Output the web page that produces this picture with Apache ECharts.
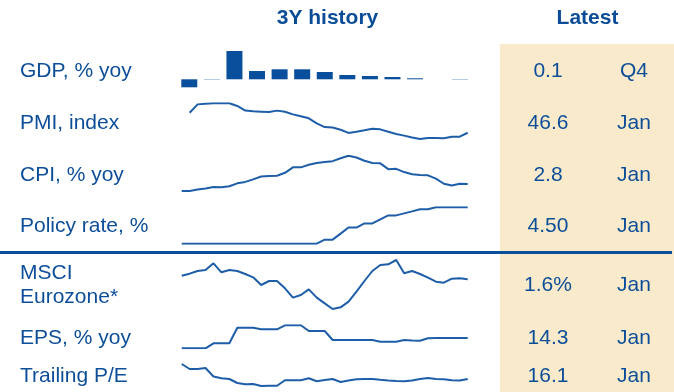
<!DOCTYPE html>
<html>
<head>
<meta charset="utf-8">
<script src="https://cdn.jsdelivr.net/npm/echarts@6/dist/echarts.min.js"></script>
<style>
html,body{margin:0;padding:0;background:#fff;}
#chart{width:674px;height:392px;}
</style>
</head>
<body>
<div id="chart"></div>
<script>
// ---- Data ----
var months = ['Jan-21','Feb-21','Mar-21','Apr-21','May-21','Jun-21','Jul-21','Aug-21','Sep-21','Oct-21','Nov-21','Dec-21',
  'Jan-22','Feb-22','Mar-22','Apr-22','May-22','Jun-22','Jul-22','Aug-22','Sep-22','Oct-22','Nov-22','Dec-22',
  'Jan-23','Feb-23','Mar-23','Apr-23','May-23','Jun-23','Jul-23','Aug-23','Sep-23','Oct-23','Nov-23','Dec-23','Jan-24'];
var quarters = ['Q4-20','Q1-21','Q2-21','Q3-21','Q4-21','Q1-22','Q2-22','Q3-22','Q4-22','Q1-23','Q2-23','Q3-23','Q4-23'];

var gdpYoy = [-4.0, 0.15, 14.15, 4.15, 5.0, 5.0, 3.65, 2.15, 1.65, 1.15, 0.5, 0, 0.15];
var pmiIndex = [null, 57.8, 62.5, 62.9, 63.1, 63.1, 63.1, 61.6, 59.0, 58.6, 58.4, 58.2, 59.0, 58.4, 56.9, 55.8, 54.7, 51.9,
  49.8, 49.5, 48.3, 46.5, 47.2, 48.0, 48.9, 48.5, 47.2, 45.9, 45.0, 43.9, 43.1, 43.7, 43.7, 43.5, 44.4, 44.4, 46.6];
var cpiYoy = [0.9, 0.9, 1.3, 1.6, 2.0, 1.9, 2.2, 3.0, 3.4, 4.1, 4.9, 5.0, 5.1, 5.9, 7.4, 7.4, 8.1, 8.6, 8.9, 9.1, 9.9, 10.6,
  10.1, 9.2, 8.6, 8.5, 6.9, 7.0, 6.1, 5.5, 5.3, 5.2, 4.3, 2.9, 2.4, 2.9, 2.8];
var policyRate = [0, 0, 0, 0, 0, 0, 0, 0, 0, 0, 0, 0, 0, 0, 0, 0, 0, 0, 0.5, 0.5, 1.25, 2.0, 2.0, 2.5, 2.5, 3.0, 3.5, 3.5,
  3.75, 4.0, 4.25, 4.25, 4.5, 4.5, 4.5, 4.5, 4.5];
var msciIndex = [144.5, 146, 148, 148.75, 153.75, 147, 148.75, 148, 145.75, 143.25, 137.5, 140.5, 140.5, 135, 128, 130,
  134.25, 128, 123.75, 119.5, 120.75, 125, 132.5, 140.5, 148, 152.5, 153, 156.25, 146.25, 148, 145.75, 143, 140, 139.25,
  142.25, 142.5, 141.75];
var epsYoy = [-11.5, -11.5, -11.5, -11.5, 1.0, 1.0, 1.0, 40.0, 40.0, 40.0, 36.0, 36.0, 36.0, 46.0, 46.0, 46.0, 31.8, 31.8,
  31.8, 9.3, 9.3, 9.3, 9.3, 9.3, 9.3, 5.0, 5.0, 5.0, 9.3, 8.0, 7.5, 13.5, 14.3, 14.3, 14.3, 14.3, 14.3];
var trailingPE = [23.6, 21.1, 21.1, 21.6, 17.35, 16.45, 16.1, 14.1, 13.45, 13.6, 12.6, 12.75, 12.7, 15.45, 15.45, 15.45,
  16.45, 14.95, 15.6, 16.1, 14.6, 15.35, 15.95, 16.1, 16.1, 15.7, 15.35, 15.1, 15.0, 15.35, 16.1, 16.6, 16.1, 16.0, 15.45,
  15.3, 16.1];

var headers = ['3Y history', 'Latest'];
var rowLabels = ['GDP, % yoy', 'PMI, index', 'CPI, % yoy', 'Policy rate, %', 'MSCI\nEurozone*', 'EPS, % yoy', 'Trailing P/E'];
var latestValues = ['0.1', '46.6', '2.8', '4.50', '1.6%', '14.3', '16.1'];
var latestPeriods = ['Q4', 'Jan', 'Jan', 'Jan', 'Jan', 'Jan', 'Jan'];

// ---- Layout ----
var FONT = "'Liberation Sans', Arial, sans-serif";
var TEXT_COLOR = '#0d4e99';
var BAR_COLOR = '#0a4f9b';
var LINE_COLOR = '#1e5ea8';
var rowY = [71, 123, 175.5, 226.5, 285.5, 338.5, 376.5];

var lineGrids = [
  {top: 103.3, height: 35.7, data: pmiIndex},
  {top: 155.7, height: 35.3, data: cpiYoy},
  {top: 207.3, height: 36.4, data: policyRate},
  {top: 260, height: 49, data: msciIndex},
  {top: 325.3, height: 23, data: epsYoy},
  {top: 364, height: 22, data: trailingPE}
];

var grid = [{left: 178, width: 293.5, top: 49.3, height: 40}];
var xAxis = [{gridIndex: 0, type: 'category', data: quarters, show: false}];
var yAxis = [{gridIndex: 0, type: 'value', min: -5, max: 15, show: false}];
var series = [{
  type: 'bar', xAxisIndex: 0, yAxisIndex: 0, data: gdpYoy, barWidth: 16,
  itemStyle: {color: BAR_COLOR}, silent: true, animation: false
}];

lineGrids.forEach(function (g, i) {
  var gi = i + 1;
  grid.push({left: 181.7, width: 286, top: g.top, height: g.height});
  xAxis.push({gridIndex: gi, type: 'category', data: months, boundaryGap: false, show: false});
  yAxis.push({gridIndex: gi, type: 'value', min: 'dataMin', max: 'dataMax', show: false, scale: true});
  series.push({
    type: 'line', xAxisIndex: gi, yAxisIndex: gi, data: g.data, showSymbol: false, symbol: 'none',
    lineStyle: {color: LINE_COLOR, width: 2}, silent: true, animation: false
  });
});

var graphic = [
  {type: 'rect', shape: {x: 500, y: 44, width: 174, height: 348}, style: {fill: '#f9eacb'}, z: 0},
  {type: 'line', shape: {x1: 0, y1: 252.5, x2: 672, y2: 252.5}, style: {stroke: '#0b4f9b', lineWidth: 3}, z: 1},
  {type: 'text', x: 327.5, y: 18, style: {text: headers[0], font: 'bold 21px ' + FONT, fill: '#0b4c97',
    textAlign: 'center', textVerticalAlign: 'middle'}},
  {type: 'text', x: 587.5, y: 18, style: {text: headers[1], font: 'bold 21px ' + FONT, fill: '#0b4c97',
    textAlign: 'center', textVerticalAlign: 'middle'}}
];

rowLabels.forEach(function (lab, i) {
  var parts = lab.split('\n');
  if (parts.length > 1) {
    graphic.push({type: 'text', x: 20, y: rowY[i] - 12.5, style: {text: parts[0], font: '21px ' + FONT, fill: TEXT_COLOR,
      textAlign: 'left', textVerticalAlign: 'middle'}});
    graphic.push({type: 'text', x: 20, y: rowY[i] + 12, style: {text: parts[1], font: '21px ' + FONT, fill: TEXT_COLOR,
      textAlign: 'left', textVerticalAlign: 'middle'}});
  } else {
    graphic.push({type: 'text', x: 20, y: rowY[i], style: {text: lab, font: '21px ' + FONT, fill: TEXT_COLOR,
      textAlign: 'left', textVerticalAlign: 'middle'}});
  }
  graphic.push({type: 'text', x: 548, y: rowY[i], style: {text: latestValues[i], font: '21px ' + FONT, fill: TEXT_COLOR,
    textAlign: 'center', textVerticalAlign: 'middle'}, z: 2});
  graphic.push({type: 'text', x: 634, y: rowY[i], style: {text: latestPeriods[i], font: '21px ' + FONT, fill: TEXT_COLOR,
    textAlign: 'center', textVerticalAlign: 'middle'}, z: 2});
});

var chart = echarts.init(document.getElementById('chart'), null, {renderer: 'canvas'});
chart.setOption({
  animation: false,
  backgroundColor: '#ffffff',
  grid: grid,
  xAxis: xAxis,
  yAxis: yAxis,
  series: series,
  graphic: graphic
});
</script>
</body>
</html>
